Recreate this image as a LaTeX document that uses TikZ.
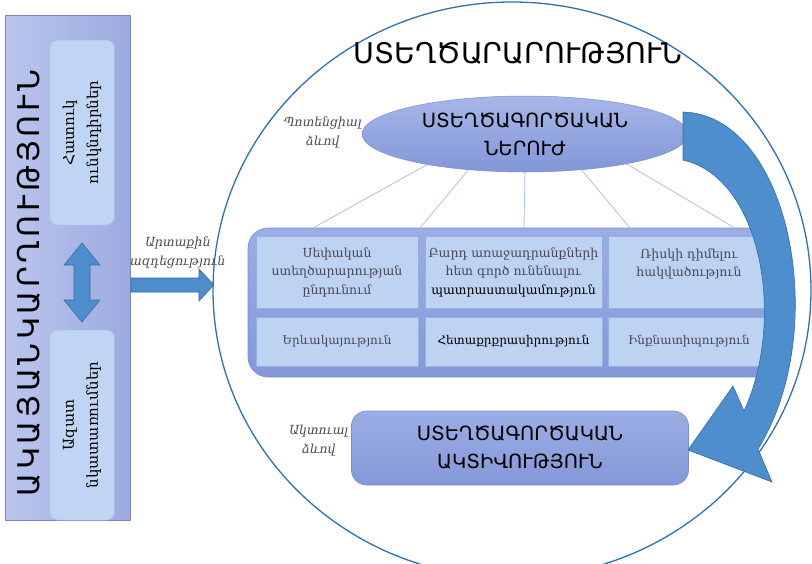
\documentclass[tikz,border=0pt]{standalone}
\usepackage{fontspec}
\setmainfont{DejaVu Serif}
\newfontfamily\capsfont{DejaVu Sans}
\newfontfamily\vfont[LetterSpace=12]{DejaVu Sans}
\newfontfamily\labfont[FakeSlant=0.2]{DejaVu Serif}
\usetikzlibrary{shapes.geometric}
\definecolor{panelL}{RGB}{186,198,237}
\definecolor{panelR}{RGB}{156,170,224}
\definecolor{subfill}{RGB}{192,213,243}
\definecolor{subedge}{RGB}{170,190,230}
\definecolor{arrblue}{RGB}{78,142,205}
\definecolor{arredge}{RGB}{52,108,168}
\definecolor{circcol}{RGB}{48,112,178}
\definecolor{elltop}{RGB}{168,183,232}
\definecolor{ellbot}{RGB}{130,150,216}
\definecolor{boxtop}{RGB}{156,173,229}
\definecolor{boxbot}{RGB}{132,152,216}
\definecolor{boxedge}{RGB}{122,142,206}
\definecolor{cellfill}{RGB}{190,210,241}
\definecolor{celledge}{RGB}{150,176,222}
\definecolor{linkcol}{RGB}{172,192,224}
\definecolor{txtgray}{RGB}{72,72,86}
\tikzset{
  cellbox/.style={draw=celledge, fill=cellfill, line width=0.6pt, align=center,
    text=txtgray, inner sep=2pt},
  subbox/.style={draw=subedge, fill=subfill, rounded corners=8pt, line width=0.5pt,
    align=center, rotate=90, minimum height=65pt,
    font=\fontsize{15}{24}\selectfont},
  biglabel/.style={font=\capsfont\fontsize{19.5}{28}\selectfont, align=center},
  sidelabel/.style={font=\labfont\fontsize{12.5}{19}\selectfont, text=txtgray, align=center},
  linkline/.style={draw=linkcol, line width=0.8pt},
  fatarrow/.style={fill=arrblue, draw=arredge, line width=0.6pt, line join=miter}
}
\begin{document}
\begin{tikzpicture}[x=1pt,y=-1pt]
\useasboundingbox (0,0) rectangle (812,563);
% left panel
\node[left color=panelL, right color=panelR, draw=panelR!80!black, line width=0.4pt,
  minimum width=125pt, minimum height=505pt, inner sep=0pt] (panel) at (67.5,267.5) {};
\node[rotate=90, font=\vfont\fontsize{30}{32}\selectfont] (vtitle) at (29,283) {ԱԿԱՅԱՆԿԱՐՂՈՒԹՅՈՒՆ};
\node[subbox, minimum width=185pt] (s1) at (82,132.5) {Հատուկ\\ունկնդիրներ};
\node[subbox, minimum width=190pt] (s2) at (82,425) {Ազատ\\նկատառումներ};
% double arrow between sub-boxes
\draw[fatarrow] (82,243) -- (100,265) -- (90,265) -- (90,300) -- (100,300) -- (82,322)
  -- (64,300) -- (74,300) -- (74,265) -- (64,265) -- cycle;
% arrow to the circle
\draw[fatarrow] (131,278) -- (199,278) -- (199,269) -- (214,285) -- (199,301) -- (199,292)
  -- (131,292) -- cycle;
\node[sidelabel] (ext) at (177,253) {Արտաքին\\ազդեցություն};
% big circle
\node[draw=circcol, line width=1.3pt, ellipse, minimum width=598pt, minimum height=576pt,
  inner sep=0pt] (circ) at (512,290) {};
\node[font=\capsfont\fontsize{28.5}{30}\selectfont] (title) at (518,53) {ՍՏԵՂԾԱՐԱՐՈՒԹՅՈՒՆ};
% traits box
\node[draw=boxedge, top color=boxtop, bottom color=boxbot, rounded corners=20pt,
  line width=0.6pt, minimum width=537pt, minimum height=149pt, inner sep=0pt] (traits) at (516.5,302.5) {};
% link lines
\coordinate (e1) at (430,163);
\coordinate (e2) at (470,168);
\coordinate (e3) at (525,172);
\coordinate (e4) at (580,168);
\coordinate (e5) at (625,163);
\coordinate (t1) at (313,228);
\coordinate (t2) at (420,228);
\coordinate (t3) at (524,228);
\coordinate (t4) at (630,228);
\coordinate (t5) at (735,228);
\foreach \i in {1,...,5} {\draw[linkline] (e\i) -- (t\i);}
% ellipse
\node[ellipse, draw=boxedge, line width=0.5pt, top color=elltop, bottom color=ellbot,
  minimum width=326pt, minimum height=76pt, inner sep=0pt, biglabel] (pot) at (525,134)
  {ՍՏԵՂԾԱԳՈՐԾԱԿԱՆ\\ՆԵՐՈՒԺ};
\node[sidelabel] (potlab) at (322,132) {Պոտենցիալ\\ձևով};
% cells
\begin{scope}[every node/.append style={font=\fontsize{12.5}{18.5}\selectfont}]
\node[cellbox, minimum width=162pt, minimum height=72pt] (c1) at (337,272)
  {Սեփական\\ստեղծարարության\\ընդունում};
\node[cellbox, minimum width=177pt, minimum height=72pt] (c2) at (513.5,272)
  {Բարդ առաջադրանքների\\հետ գործ ունենալու\\\textcolor{black}{պատրաստակամություն}};
\node[cellbox, minimum width=162pt, minimum height=72pt] (c3) at (689,272)
  {Ռիսկի դիմելու\\հակվածություն\\\mbox{}};
\end{scope}
\begin{scope}[every node/.append style={font=\fontsize{12}{16}\selectfont}]
\node[cellbox, minimum width=162pt, minimum height=49pt] (c4) at (337,341.5) {Երևակայություն};
\node[cellbox, minimum width=177pt, minimum height=49pt, text=black] (c5) at (513.5,341.5) {Հետաքրքրասիրություն};
\node[cellbox, minimum width=162pt, minimum height=49pt] (c6) at (689,341.5) {Ինքնատիպություն};
\end{scope}
% activity box
\node[draw=boxedge, top color=boxtop, bottom color=boxbot, rounded corners=15pt,
  line width=0.6pt, minimum width=337pt, minimum height=74pt, inner sep=0pt, biglabel] (act) at (520,448)
  {ՍՏԵՂԾԱԳՈՐԾԱԿԱՆ\\ԱԿՏԻՎՈՒԹՅՈՒՆ};
\node[sidelabel] (actlab) at (318,441) {Ակտուալ\\ձևով};
% curved arrow from potential to activity
\draw[fatarrow] (683,112) .. controls (790,115) and (832,330) .. (758,449)
  -- (772,482) -- (688,450) -- (733,386) -- (744,411)
  .. controls (786,320) and (762,178) .. (683,160) -- cycle;
\end{tikzpicture}
\end{document}
